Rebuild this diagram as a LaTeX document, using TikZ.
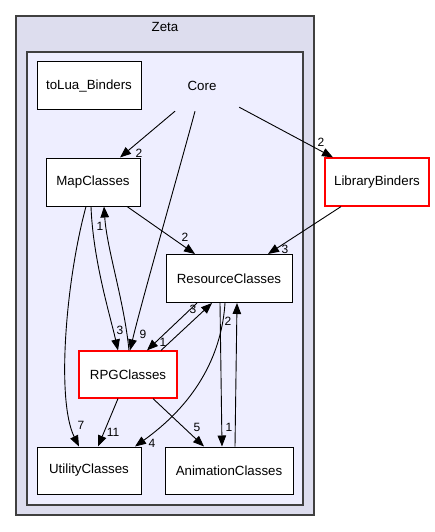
\documentclass[tikz,border=0pt]{standalone}
\usepackage{fontspec}
\setmainfont{Liberation Sans}
\usetikzlibrary{arrows.meta,calc}
\definecolor{outerfill}{HTML}{DDDDEE}
\definecolor{innerfill}{HTML}{EEEEFF}
\definecolor{clusterline}{HTML}{404040}
\definecolor{redline}{HTML}{FF0000}
\begin{document}
\begin{tikzpicture}[x=1pt,y=-1pt,
  dirbox/.style={draw=black, fill=white, line width=1pt, minimum width=#1, minimum height=48pt, inner sep=0pt, font=\fontsize{13.3}{15}\selectfont},
  redbox/.style={dirbox=#1, draw=redline, line width=1.2pt},
  plainlbl/.style={inner sep=0pt, font=\fontsize{13.3}{15}\selectfont},
  lbl/.style={inner sep=0pt, font=\fontsize{12}{13}\selectfont},
  edge/.style={draw=black, line width=0.9pt, -{Triangle[length=11pt,width=8.5pt]}},
  cluster/.style={draw=clusterline, line width=1.3pt}]
\useasboundingbox (0,0) rectangle (435,532);
\fill[white] (0,0) rectangle (435,532);
% clusters
\draw[cluster, fill=outerfill] (16,16) rectangle (314,515);
\node[plainlbl] (zeta) at (165,27) {Zeta};
\draw[cluster, fill=innerfill] (27,52) rectangle (303,505);
% nodes
\node[dirbox=104pt] (tolua) at (89,86) {toLua\_Binders};
\node[plainlbl, minimum width=80pt, minimum height=48pt] (core) at (202,86) {Core};
\node[dirbox=94pt] (map) at (93,182) {MapClasses};
\node[redbox=104pt] (lib) at (377,182) {LibraryBinders};
\node[dirbox=126pt] (res) at (229,278.5) {ResourceClasses};
\node[redbox=98pt, minimum height=47pt] (rpg) at (128,374.5) {RPGClasses};
\node[dirbox=104pt, minimum height=47pt] (util) at (89,470.5) {UtilityClasses};
\node[dirbox=128pt, minimum height=47pt] (anim) at (229,470.5) {AnimationClasses};
% edges
\draw[edge] ($(core.south)+(-27,1)$) -- ($(map.north)+(27,0)$);
\node[lbl] (l1) at (139,153) {2};
\draw[edge] ($(core.south)+(-7,1)$) .. controls (182,160) and (142,300) .. ($(rpg.north)+(2,0)$);
\node[lbl] (l2) at (143,334) {9};
\draw[edge] ($(core.south east)+(-3,-3)$) -- ($(lib.north)+(-44,0)$);
\node[lbl] (l3) at (321,142) {2};
\draw[edge] ($(map.south)+(34,0)$) -- ($(res.north)+(-34,0)$);
\node[lbl] (l4) at (185,237) {2};
\draw[edge] ($(lib.south)+(-36,0)$) -- ($(res.north)+(39,0)$);
\node[lbl] (l5) at (285,249) {3};
\draw[edge] ($(map.south)+(-2,0)$) .. controls (93,260) and (110,315) .. ($(rpg.north)+(-10,0)$);
\node[lbl] (l6) at (120,330) {3};
\draw[edge] ($(rpg.north)+(1,0)$) .. controls (124,300) and (107,250) .. ($(map.south)+(11,0)$);
\node[lbl] (l7) at (100,226) {1};
\draw[edge] ($(map.south)+(-7,0)$) .. controls (66,280) and (56,400) .. ($(util.north)+(-10,0)$);
\node[lbl] (l8) at (81,425) {7};
\draw[edge] ($(res.south)+(-32,0)$) -- ($(rpg.north)+(19,0)$);
\node[lbl] (l9) at (163,342) {1};
\draw[edge] ($(rpg.north)+(33,0)$) -- ($(res.south)+(-17,0)$);
\node[lbl] (l10) at (193,309) {3};
\draw[edge] ($(res.south)+(-4,0)$) .. controls (222,350) and (200,400) .. ($(util.north)+(46,0)$);
\node[lbl] (l11) at (152,443) {4};
\draw[edge] ($(res.south)+(-9,0)$) -- ($(anim.north)+(-7,0)$);
\node[lbl] (l12) at (229,427) {1};
\draw[edge] ($(anim.north)+(6,0)$) -- ($(res.south)+(8,0)$);
\node[lbl] (l13) at (228,321) {2};
\draw[edge] ($(rpg.south)+(-10,0)$) -- ($(util.north)+(9,0)$);
\node[lbl] (l14) at (113,432) {11};
\draw[edge] ($(rpg.south)+(25,0)$) -- ($(anim.north)+(-25,0)$);
\node[lbl] (l15) at (197,427) {5};
\end{tikzpicture}
\end{document}
